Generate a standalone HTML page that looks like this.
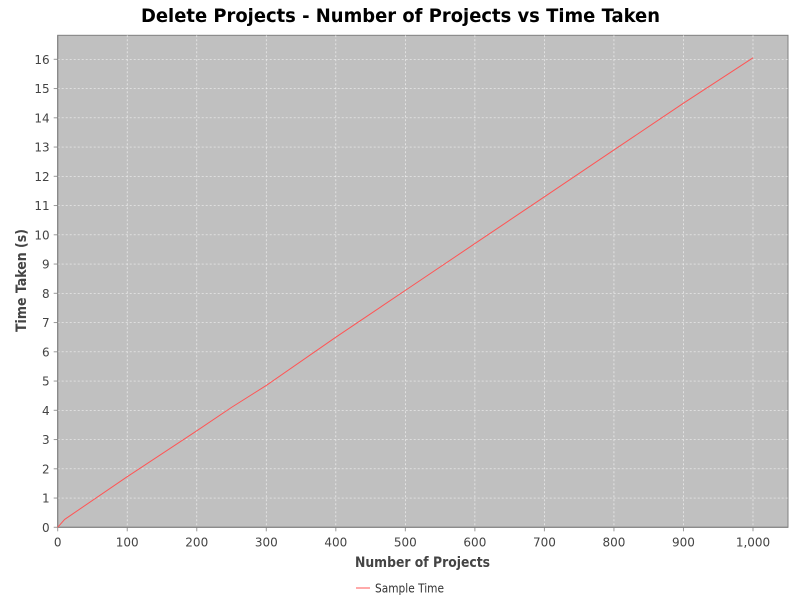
<!DOCTYPE html>
<html><head><meta charset="utf-8"><style>
body{margin:0;background:#fff;}
svg{display:block;font-family:"DejaVu Sans","Liberation Sans",sans-serif;}
</style></head><body>
<svg id="c" width="800" height="600" xmlns="http://www.w3.org/2000/svg">
<rect width="800" height="600" fill="#fff"/>
<text x="141" y="22" font-size="19" font-weight="bold" fill="#000" textLength="519" lengthAdjust="spacingAndGlyphs">Delete Projects - Number of Projects vs Time Taken</text>
<rect x="57.7" y="35.3" width="730.3" height="492" fill="#c0c0c0" stroke="#808080"/>
<g id="grid"></g><g id="ticks"></g>
<text x="355" y="567" font-size="14" font-weight="bold" fill="#444" textLength="135" lengthAdjust="spacingAndGlyphs">Number of Projects</text>
<text transform="translate(26,332) rotate(-90)" font-size="14" font-weight="bold" fill="#444" textLength="103" lengthAdjust="spacingAndGlyphs">Time Taken (s)</text>
<g>
<line x1="356" y1="588" x2="370" y2="588" stroke="#ff5555" stroke-width="1"/>
<text x="375" y="592.5" font-size="12" fill="#333" textLength="69" lengthAdjust="spacingAndGlyphs">Sample Time</text>
</g>
</svg>
<script>
const xValues=[0,10,100,200,250,300,400,500,600,700,800,900,1000];
const yValues=[0,0.27,1.73,3.3,4.1,4.85,6.5,8.1,9.7,11.3,12.9,14.5,16.05];
const xTicks=[0,100,200,300,400,500,600,700,800,900,1000];
const xTickLabels=["0","100","200","300","400","500","600","700","800","900","1,000"];
const yTicks=[0,1,2,3,4,5,6,7,8,9,10,11,12,13,14,15,16];
const NS="http://www.w3.org/2000/svg";
const L=57.7,R=788,T=35.3,B=527.3;
const sx=v=>L+v*(753-L)/1000;
const sy=v=>B-v*29.25;
const svg=document.getElementById('c'),grid=document.getElementById('grid'),tk=document.getElementById('ticks');
function mk(t,a,p){const e=document.createElementNS(NS,t);for(const k in a)e.setAttribute(k,a[k]);p.appendChild(e);return e;}
xTicks.forEach((v,i)=>{const x=sx(v);
 if(v>0){const g=mk('line',{x1:x,y1:T,x2:x,y2:B,stroke:'#f0f0f0','stroke-dasharray':'2,2','stroke-width':0.7},grid);
 
 }
 mk('line',{x1:x,y1:B,x2:x,y2:B+4,stroke:'#999'},tk);
 const t=mk('text',{x:x,y:B+19,'text-anchor':'middle','font-size':12,fill:'#444'},tk);t.textContent=xTickLabels[i];
 
 });
yTicks.forEach(v=>{const y=sy(v);
 if(v>0){const g=mk('line',{x1:L,y1:y,x2:R,y2:y,stroke:'#f0f0f0','stroke-dasharray':'2,2','stroke-width':0.7},grid);
 
 }
 mk('line',{x1:L-4,y1:y,x2:L,y2:y,stroke:'#999'},tk);
 const t=mk('text',{x:L-8,y:y+4.5,'text-anchor':'end','font-size':12,fill:'#444'},tk);t.textContent=v;
 
 });
mk('line',{x1:L,y1:T,x2:L,y2:B,stroke:'#808080'},tk);
mk('line',{x1:L,y1:B,x2:R,y2:B,stroke:'#808080'},tk);
const p=mk('polyline',{points:xValues.map((x,i)=>sx(x)+','+sy(yValues[i])).join(' '),fill:'none',stroke:'#ff5555','stroke-width':1},svg);


</script>
</body></html>
